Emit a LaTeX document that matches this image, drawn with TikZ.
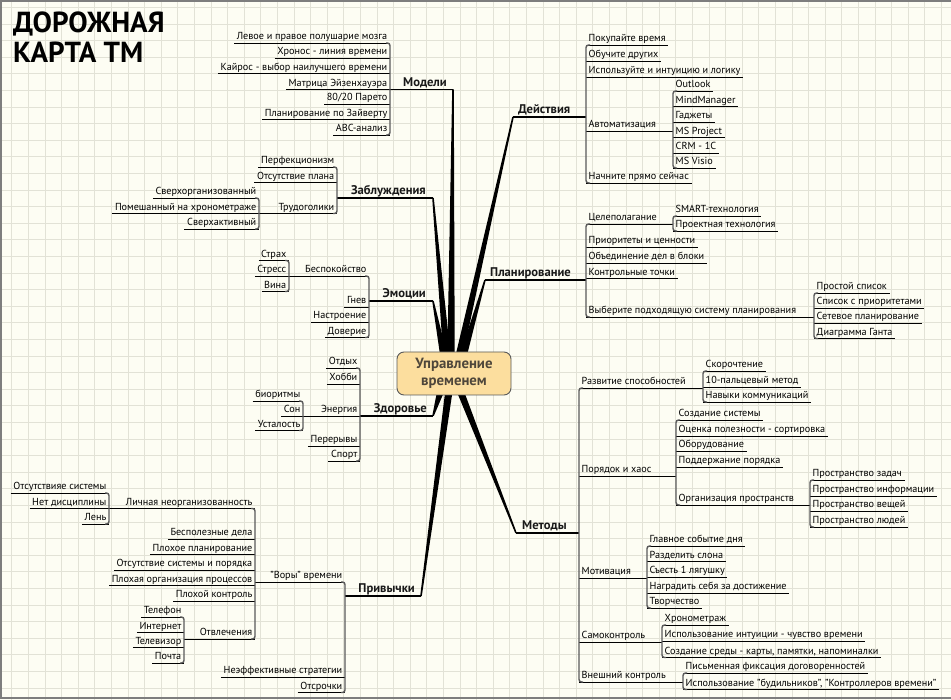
\documentclass[tikz,border=0pt]{standalone}
\usepackage{fontspec}
\setmainfont{PT Sans}
\usetikzlibrary{calc}
\pgfdeclarelayer{back}
\pgfdeclarelayer{mid}
\pgfsetlayers{back,mid,main}
\definecolor{bgc}{RGB}{253,253,243}
\definecolor{gridc}{RGB}{226,226,214}
\definecolor{ctrfill}{RGB}{252,222,158}
\definecolor{ctrtext}{RGB}{78,70,58}
\definecolor{framec}{RGB}{125,125,125}
\definecolor{spinec}{RGB}{90,90,90}
\newcommand\spR[2]{\draw[spine] ($(#1.south west)+(4,0)$) -- (#1.south west) -- (#2.south west) -- ($(#2.south west)+(4,0)$);}
\newcommand\spL[2]{\draw[spine] ($(#1.south east)+(-4,0)$) -- (#1.south east) -- (#2.south east) -- ($(#2.south east)+(-4,0)$);}
\newcommand\brw[2]{\fill[black] ($(#1)+(-0.8,0)$) -- ($(#1)+(0.8,0)$) -- ($(#2)+(3.7,0)$) -- ($(#2)+(-3.7,0)$) -- cycle;}
\tikzset{
  topic/.style={font=\fontsize{10.2}{12}\selectfont, text=black, inner xsep=2.5pt, inner ysep=0.6pt, text height=7.5pt, text depth=2.6pt},
  lf/.style={topic, anchor=south east},
  rf/.style={topic, anchor=south west},
  mainl/.style={font=\bfseries\fontsize{12.6}{14}\selectfont, text=black!90, inner xsep=0pt, inner ysep=0.5pt, text height=9pt, text depth=2.5pt},
  mainL/.style={mainl, anchor=south east},
  mainR/.style={mainl, anchor=south west},
  uline/.style={draw=black, line width=0.9pt},
  mline/.style={draw=black, line width=1.1pt},
  spine/.style={draw=spinec, line width=1.4pt, rounded corners=2.5pt},
  ctrbox/.style={draw=black!65, line width=0.9pt, fill=ctrfill, rounded corners=7pt, minimum width=114pt, minimum height=43pt, align=center, text=ctrtext, font=\bfseries\fontsize{14.8}{17.5}\selectfont, inner sep=1pt},
  ttl/.style={font=\bfseries\fontsize{29}{30}\selectfont, anchor=base west, inner sep=0pt, text=black}
}
\begin{document}
\begin{tikzpicture}[x=1pt,y=-1pt]
\useasboundingbox (0,0) rectangle (951,700);
\begin{pgfonlayer}{back}
\fill[bgc] (0,0) rectangle (951,700);
\foreach \i in {0,...,56} \draw[gridc, line width=0.7pt] ({11.7+\i*16.6},0) -- ({11.7+\i*16.6},700);
\foreach \j in {0,...,41} \draw[gridc, line width=0.7pt] (0,{7.3+\j*16.6}) -- (951,{7.3+\j*16.6});
\draw[framec, line width=2pt] (951,1) -- (1,1) -- (1,698) -- (951,698);
\end{pgfonlayer}

% title
\node[ttl] (ttl1) at (13,33) {ДОРОЖНАЯ};
\node[ttl] (ttl2) at (13,63) {КАРТА ТМ};

% centre
\node[ctrbox] (ctr) at (454,373.5) {Управление\\временем};

% main topics
\node[mainL] (Mod) at (447,89.5) {Модели};
\node[mainL] (Zab) at (426,198) {Заблуждения};
\node[mainL] (Emo) at (426,301) {Эмоции};
\node[mainL] (Zdr) at (427,416) {Здоровье};
\node[mainL] (Pri) at (415,596) {Привычки};
\node[mainR] (Dej) at (518,117) {Действия};
\node[mainR] (Pla) at (490,280) {Планирование};
\node[mainR] (Met) at (522,533) {Методы};
\coordinate (ModE) at (453,89.5);
\coordinate (ZabE) at (433,198);
\coordinate (EmoE) at (433,301);
\coordinate (ZdrE) at (433,416);
\coordinate (PriE) at (421,596);
\coordinate (DejE) at (513,117);
\coordinate (PlaE) at (485,280);
\coordinate (MetE) at (516,533);

% Модели
\node[lf] (m1) at (390,43) {Левое и правое полушарие мозга};
\node[lf] (m2) at (390,58.3) {Хронос - линия времени};
\node[lf] (m3) at (390,73.7) {Кайрос - выбор наилучшего времени};
\node[lf] (m4) at (390,89.5) {Матрица Эйзенхауэра};
\node[lf] (m5) at (390,104.3) {80/20 Парето};
\node[lf] (m6) at (390,119.7) {Планирование по Зайверту};
\node[lf] (m7) at (390,135) {ABC-анализ};
% Заблуждения
\node[lf] (z1) at (337,167) {Перфекционизм};
\node[lf] (z2) at (337,182.5) {Отсутствие плана};
\node[lf] (z3) at (337,213.5) {Трудоголики};
\node[lf] (z31) at (259,198) {Сверхорганизованный};
\node[lf] (z32) at (259,213.5) {Помешанный на хронометраже};
\node[lf] (z33) at (259,229) {Сверхактивный};
% Эмоции
\node[lf] (e1) at (369,276) {Беспокойство};
\node[lf] (e2) at (369,307) {Гнев};
\node[lf] (e3) at (369,322) {Настроение};
\node[lf] (e4) at (369,337.5) {Доверие};
\node[lf] (e11) at (289,260.5) {Страх};
\node[lf] (e12) at (289,276) {Стресс};
\node[lf] (e13) at (289,291.5) {Вина};
% Здоровье
\node[lf] (h1) at (360,368) {Отдых};
\node[lf] (h2) at (360,384) {Хобби};
\node[lf] (h3) at (360,416) {Энергия};
\node[lf] (h4) at (360,446) {Перерывы};
\node[lf] (h5) at (360,461) {Спорт};
\node[lf] (h31) at (303,401) {биоритмы};
\node[lf] (h32) at (303,416) {Сон};
\node[lf] (h33) at (303,430.5) {Усталость};
% Привычки
\node[lf] (p1) at (345,582) {"Воры" времени};
\node[lf] (p2) at (345,677) {Неэффективные стратегии};
\node[lf] (p3) at (345,692.5) {Отсрочки};
\node[lf] (p11) at (255,508.5) {Личная неорганизованность};
\node[lf] (p12) at (255,539) {Бесполезные дела};
\node[lf] (p13) at (255,554.5) {Плохое планирование};
\node[lf] (p14) at (255,570) {Отсутствие системы и порядка};
\node[lf] (p15) at (255,585.5) {Плохая организация процессов};
\node[lf] (p16) at (255,601) {Плохой контроль};
\node[lf] (p17) at (255,639) {Отвлечения};
\node[lf] (p111) at (109,493) {Отсутствияе системы};
\node[lf] (p112) at (109,508.5) {Нет дисциплины};
\node[lf] (p113) at (109,524) {Лень};
\node[lf] (p171) at (184,617) {Телефон};
\node[lf] (p172) at (184,632.5) {Интернет};
\node[lf] (p173) at (184,647.5) {Телевизор};
\node[lf] (p174) at (184,663) {Почта};
% Действия
\node[rf] (d1) at (586,45) {Покупайте время};
\node[rf] (d2) at (586,61) {Обучите других};
\node[rf] (d3) at (586,77) {Используйте и интуицию и логику};
\node[rf] (d4) at (586,131) {Автоматизация};
\node[rf] (d5) at (586,183) {Начните прямо сейчас};
\node[rf] (d41) at (673,91) {Outlook};
\node[rf] (d42) at (673,106.5) {MindManager};
\node[rf] (d43) at (673,122) {Гаджеты};
\node[rf] (d44) at (673,137.5) {MS Project};
\node[rf] (d45) at (673,153) {CRM - 1C};
\node[rf] (d46) at (673,168) {MS Visio};
% Планирование
\node[rf] (l1) at (586,224) {Целеполагание};
\node[rf] (l2) at (586,247) {Приоритеты и ценности};
\node[rf] (l3) at (586,263) {Объединение дел в блоки};
\node[rf] (l4) at (586,278.5) {Контрольные точки};
\node[rf] (l5) at (586,317) {Выберите подходящую систему планирования};
\node[rf] (l11) at (673,216) {SMART-технология};
\node[rf] (l12) at (673,231) {Проектная технология};
\node[rf] (l51) at (814,293) {Простой список};
\node[rf] (l52) at (814,308) {Список с приоритетами};
\node[rf] (l53) at (814,323) {Сетевое планирование};
\node[rf] (l54) at (814,338.5) {Диаграмма Ганта};
% Методы
\node[rf] (t1) at (579,388) {Развитие способностей};
\node[rf] (t2) at (579,476) {Порядок и хаос};
\node[rf] (t3) at (579,578) {Мотивация};
\node[rf] (t4) at (579,642) {Самоконтроль};
\node[rf] (t5) at (579,682) {Внешний контроль};
\node[rf] (t11) at (703,371) {Скорочтение};
\node[rf] (t12) at (703,387) {10-пальцевый метод};
\node[rf] (t13) at (703,402) {Навыки коммуникаций};
\node[rf] (t21) at (676,420) {Создание системы};
\node[rf] (t22) at (676,436) {Оценка полезности - сортировка};
\node[rf] (t23) at (676,451) {Оборудование};
\node[rf] (t24) at (676,467) {Поддержание порядка};
\node[rf] (t25) at (676,505) {Организация пространств};
\node[rf] (t251) at (810,480) {Пространство задач};
\node[rf] (t252) at (810,496) {Пространство информации};
\node[rf] (t253) at (810,511) {Пространство вещей};
\node[rf] (t254) at (810,527) {Пространство людей};
\node[rf] (t31) at (647,546) {Главное событие дня};
\node[rf] (t32) at (647,561.5) {Разделить слона};
\node[rf] (t33) at (647,577) {Съесть 1 лягушку};
\node[rf] (t34) at (647,593) {Наградить себя за достижение};
\node[rf] (t35) at (647,608) {Творчество};
\node[rf] (t41) at (662,625) {Хронометраж};
\node[rf] (t42) at (662,641) {Использование интуиции - чувство времени};
\node[rf] (t43) at (662,657.5) {Создание среды - карты, памятки, напоминалки};
\node[rf] (t51) at (683,673) {Письменная фиксация договоренностей};
\node[rf] (t52) at (683,689.5) {Использование "будильников", "Контроллеров времени"};

% underlines of topics
\foreach \n in {m1,m2,m3,m4,m5,m6,m7,z1,z2,z3,z31,z32,z33,e1,e2,e3,e4,e11,e12,e13,
  h1,h2,h3,h4,h5,h31,h32,h33,p1,p2,p3,p11,p12,p13,p14,p15,p16,p17,p111,p112,p113,
  p171,p172,p173,p174,d1,d2,d3,d4,d5,d41,d42,d43,d44,d45,d46,l1,l2,l3,l4,l5,l11,l12,
  l51,l52,l53,l54,t1,t2,t3,t4,t5,t11,t12,t13,t21,t22,t23,t24,t25,t251,t252,t253,t254,
  t31,t32,t33,t34,t35,t41,t42,t43,t51,t52}
  \draw[uline] (\n.south west) -- (\n.south east);

% parent extensions to child spines
\draw[uline] (z3.south west) -- (z3.south west -| z31.south east);
\draw[uline] (e1.south west) -- (e1.south west -| e11.south east);
\draw[uline] (h3.south west) -- (h3.south west -| h31.south east);
\draw[uline] (p1.south west) -- (p1.south west -| p11.south east);
\draw[uline] (p11.south west) -- (p11.south west -| p111.south east);
\draw[uline] (p17.south west) -- (p17.south west -| p171.south east);
\draw[uline] (d4.south east) -- (d4.south east -| d41.south west);
\draw[uline] (l1.south east) -- (l1.south east -| l11.south west);
\draw[uline] (l5.south east) -- (l5.south east -| l51.south west);
\draw[uline] (t1.south east) -- (t1.south east -| t11.south west);
\draw[uline] (t2.south east) -- (t2.south east -| t21.south west);
\draw[uline] (t25.south east) -- (t25.south east -| t251.south west);
\draw[uline] (t3.south east) -- (t3.south east -| t31.south west);
\draw[uline] (t4.south east) -- (t4.south east -| t41.south west);
\draw[uline] (t5.south east) -- (t5.south east -| t51.south west);

% main topic underlines
\draw[mline] (ModE) -- (ModE -| m1.south east);
\draw[mline] (ZabE) -- (ZabE -| z1.south east);
\draw[mline] (EmoE) -- (EmoE -| e1.south east);
\draw[mline] (ZdrE) -- (ZdrE -| h1.south east);
\draw[mline] (PriE) -- (PriE -| p1.south east);
\draw[mline] (DejE) -- (DejE -| d1.south west);
\draw[mline] (PlaE) -- (PlaE -| l1.south west);
\draw[mline] (MetE) -- (MetE -| t1.south west);

% spines
\spL{m1}{m7} \spL{z1}{z3} \spL{z31}{z33} \spL{e1}{e4} \spL{e11}{e13}
\spL{h1}{h5} \spL{h31}{h33} \spL{p1}{p3} \spL{p11}{p17} \spL{p111}{p113} \spL{p171}{p174}
\spR{d1}{d5} \spR{d41}{d46} \spR{l1}{l5} \spR{l11}{l12} \spR{l51}{l54}
\spR{t1}{t5} \spR{t11}{t13} \spR{t21}{t25} \spR{t251}{t254} \spR{t31}{t35} \spR{t41}{t43} \spR{t51}{t52}

% tapered main branches
\coordinate (bZab) at ($(ctr.north)+(-7,5)$);
\coordinate (bEmo) at ($(ctr.north)+(-10,5)$);
\coordinate (bMod) at ($(ctr.north)+(-3,5)$);
\coordinate (bDej) at ($(ctr.north)+(5,5)$);
\coordinate (bPla) at ($(ctr.north)+(9,5)$);
\coordinate (bZdr) at ($(ctr.south)+(-13,-5)$);
\coordinate (bPri) at ($(ctr.south)+(-5,-5)$);
\coordinate (bMet) at ($(ctr.south)+(6,-5)$);
\begin{pgfonlayer}{mid}
\brw{ModE}{bMod}
\brw{ZabE}{bZab}
\brw{EmoE}{bEmo}
\brw{DejE}{bDej}
\brw{PlaE}{bPla}
\brw{ZdrE}{bZdr}
\brw{PriE}{bPri}
\brw{MetE}{bMet}
\end{pgfonlayer}
\end{tikzpicture}
\end{document}
